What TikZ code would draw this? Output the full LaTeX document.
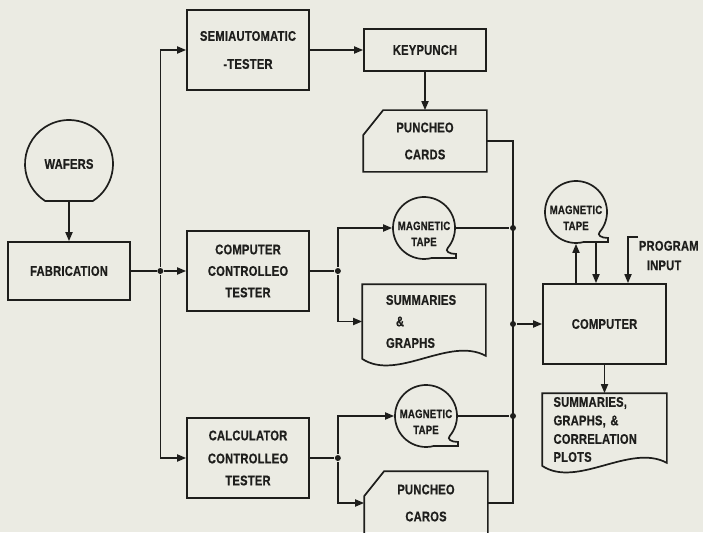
\documentclass[tikz,border=0pt]{standalone}
\usepackage{fontspec}
\newfontfamily\lbl[FakeStretch=0.8,LetterSpace=1.5,FakeBold=0.6]{Liberation Sans}
\usetikzlibrary{shapes,arrows.meta,calc}
\definecolor{paper}{RGB}{235,235,227}
\definecolor{ink}{RGB}{30,30,28}
\tikzstyle{line} = [draw, -{Triangle[length=9pt,width=7pt]}]
\tikzstyle{block} = [draw, rectangle, text centered, align=center, minimum width=122pt, minimum height=80pt, inner sep=0pt]
\tikzstyle{shapebox} = [rectangle, align=center, minimum width=122pt, inner sep=0pt]
\tikzstyle{tape} = [rectangle, align=center, minimum width=62pt, minimum height=62pt, inner sep=0pt, font=\lbl\bfseries\fontsize{12}{13}\selectfont]
\tikzstyle{dot} = [circle, fill=ink, minimum size=6pt, inner sep=0pt]
% outlines drawn round the named nodes
\newcommand{\tapeshape}[1]{%
  \draw ([shift={(-40:31pt)}]#1.center) arc[start angle=-40, end angle=285, radius=31pt]
    -- ([shift={(32pt,-30pt)}]#1.center) -- ++(0pt,4pt)
    .. controls ++(-7pt,0pt) and ++(-3pt,-3pt) .. ([shift={(-40:31pt)}]#1.center);}
\newcommand{\cardshape}[1]{%
  \draw (#1.south west) -- ([yshift=-25pt]#1.north west) -- ([xshift=20pt]#1.north west)
    -- (#1.north east) -- (#1.south east) -- cycle;}
\newcommand{\docshape}[1]{%
  \draw (#1.south west) -- (#1.north west) -- (#1.north east) -- ([yshift=3pt]#1.south east)
    .. controls ([shift={(-37pt,23pt)}]#1.south east) and ([shift={(35pt,-23pt)}]#1.south west) .. cycle;}
\newcommand{\wafershape}[1]{%
  \draw ([shift={(-57:44pt)}]#1.center) arc[start angle=-57, end angle=237, radius=44pt] -- cycle;}

\begin{document}
\begin{tikzpicture}[x=1pt, y=1pt, color=ink, line width=1.7pt, font=\lbl\bfseries\fontsize{14}{16}\selectfont]
        \fill[paper] (0,0) rectangle (703,-532);
        \useasboundingbox (0,0) rectangle (703,-532);
        \node[block, minimum height=58pt] (fab) at (69,-271) {FABRICATION};
        \node[shapebox, minimum width=88pt, minimum height=88pt, above of=fab, node distance=107pt] (wafers) {WAFERS};
        \node[block, right of=fab, node distance=179pt] (comptest) {COMPUTER\\[5.5pt]CONTROLLEO\\[5.5pt]TESTER};
        \node[block, above of=comptest, node distance=221pt] (semi) {SEMIAUTOMATIC\\[12pt]-TESTER};
        \node[block, below of=comptest, node distance=187pt] (calc) {CALCULATOR\\[7pt]CONTROLLEO\\[6pt]TESTER};
        \node[block, minimum height=42pt, right of=semi, node distance=177pt] (keypunch) {KEYPUNCH};
        \node[shapebox, minimum height=60pt, below of=keypunch, node distance=91pt] (cards1) {PUNCHEO\\[11pt]CARDS};
        \node[tape] (tape1) at (424,-228) {\rule{0pt}{20pt}MAGNETIC\\[3pt]TAPE};
        \node[shapebox, minimum height=73pt, text width=76pt, align=left] (sum1) at (424,-321.5) {SUMMARIES\\[5.5pt]\hspace*{10pt}\&\\[5.5pt]GRAPHS};
        \node[tape] (tape2) at (426,-416) {\rule{0pt}{20pt}MAGNETIC\\[3pt]TAPE};
        \node[shapebox, minimum height=62pt] (cards2) at (426,-503) {PUNCHEO\\[11pt]CAROS};
        \node[block, minimum width=123pt] (comp) at (604.5,-324) {COMPUTER};
        \node[tape] (tape3) at (576,-212) {\rule{0pt}{20pt}MAGNETIC\\[3pt]TAPE};
        \node[shapebox, minimum width=123pt, minimum height=71pt, text width=102pt, align=left] (sum2) at (604.5,-429.5) {SUMMARIES,\\[2.5pt]GRAPHS, \&\\[2.5pt]CORRELATION\\[2pt]PLOTS};
        \node[shapebox, minimum width=0pt, anchor=north west, align=left] (prog) at (638,-240) {PROGRAM\\[3.5pt]\hspace*{8pt}INPUT};
        \wafershape{wafers}
        \cardshape{cards1}
        \cardshape{cards2}
        \docshape{sum1}
        \docshape{sum2}
        \tapeshape{tape1}
        \tapeshape{tape2}
        \tapeshape{tape3}
        \coordinate (bus) at (513,0);
        \coordinate (tdrop) at ([shift={(20pt,-30pt)}]tape3.center);
        \coordinate (pin) at ([shift={(-10pt,3pt)}]prog.north west);
        \node[dot] (j0) at ($(fab.east)+(29.5pt,0)$) {};
        \node[dot] (j1) at ($(comptest.east)+(28pt,0)$) {};
        \node[dot] (j2) at ($(calc.east)+(28pt,0)$) {};
        \node[dot] (j3) at (tape1 -| bus) {};
        \node[dot] (j4) at (comp.west -| bus) {};
        \node[dot] (j5) at (tape2 -| bus) {};
        \path[line] ([yshift=-37pt]wafers.center) -- (fab);
        \draw (fab) -- (j0);
        \path[line] (j0) -- (comptest);
        \path[line] (j0) |- (semi);
        \path[line] (j0) |- (calc);
        \path[line] (semi) -- (keypunch);
        \path[line] (keypunch) -- (cards1);
        \draw (comptest) -- (j1);
        \path[line] (j1) |- (tape1);
        \path[line] (j1) |- (sum1);
        \draw (calc) -- (j2);
        \path[line] (j2) |- (tape2);
        \path[line] (j2) |- (cards2);
        \draw (cards1.east) -| (cards2.east -| bus) -- (cards2.east);
        \draw (tape1) -- (j3);
        \draw (tape2) -- (j5);
        \path[line] (j4) -- (comp);
        \path[line] (comp) -- (sum2);
        \path[line] (tape3.south |- comp.north) -- (tape3.south);
        \path[line] (tdrop) -- (tdrop |- comp.north);
        \path[line] ([yshift=3pt]prog.north west) -- (pin) -- (pin |- comp.north);
\end{tikzpicture}
\end{document}
